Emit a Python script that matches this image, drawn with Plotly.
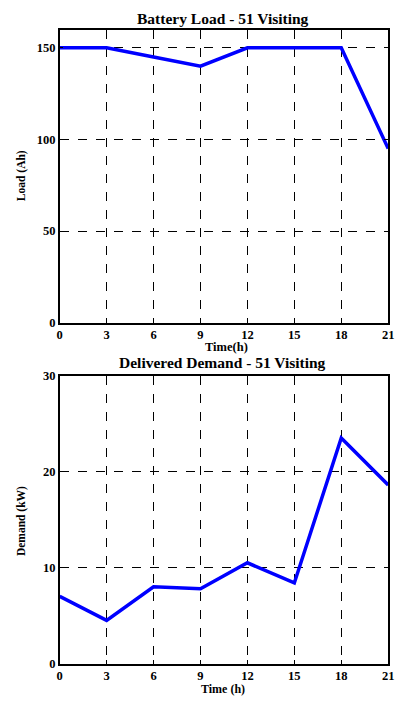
import plotly.graph_objects as go

hours = [0, 3, 6, 9, 12, 15, 18, 21]
load_ah = [150, 150, 145, 140, 150, 150, 150, 95]
demand_kw = [7.0, 4.5, 8.0, 7.8, 10.5, 8.4, 23.5, 18.6]
x_ticks = [0, 3, 6, 9, 12, 15, 18, 21]
load_ticks = [0, 50, 100, 150]
demand_ticks = [0, 10, 20, 30]

W, H = 402, 702
FONT = "Liberation Serif"

def py(px):
    return 1 - px / H

fig = go.Figure()
fig.add_trace(go.Scatter(x=hours, y=load_ah, mode="lines",
                         line=dict(color="#0000ff", width=3.5),
                         xaxis="x", yaxis="y", showlegend=False))
fig.add_trace(go.Scatter(x=hours, y=demand_kw, mode="lines",
                         line=dict(color="#0000ff", width=3.5),
                         xaxis="x2", yaxis="y2", showlegend=False))

xdom = [58 / W, 394 / W]
axis_common = dict(
    showline=True, linecolor="black", linewidth=1.5, mirror="ticks",
    ticks="inside", ticklen=4, tickcolor="black",
    showgrid=True, gridcolor="black", gridwidth=1, griddash="dash",
    zeroline=False,
    tickfont=dict(family=FONT, size=12.5, color="black", weight="bold"),
)

fig.update_layout(
    width=W, height=H,
    margin=dict(l=0, r=0, t=0, b=0),
    paper_bgcolor="white", plot_bgcolor="white",
    xaxis=dict(domain=xdom, anchor="y", range=[0, 21], tickvals=x_ticks, **axis_common),
    yaxis=dict(domain=[py(322), py(23)], anchor="x", range=[0, 160], tickvals=load_ticks, **axis_common),
    xaxis2=dict(domain=xdom, anchor="y2", range=[0, 21], tickvals=x_ticks, **axis_common),
    yaxis2=dict(domain=[py(670), py(376)], anchor="x2", range=[0, 30], tickvals=demand_ticks, **axis_common),
)

def ann(text, x, y, size, angle=0):
    fig.add_annotation(text=text, x=x / W, y=py(y), xref="paper", yref="paper",
                       showarrow=False, textangle=angle, xanchor="center", yanchor="middle",
                       borderpad=0,
                       font=dict(family=FONT, size=size, color="black", weight="bold"))

ann("Battery Load - 51 Visiting", 225, 12, 15.5)
ann("Time(h)", 229, 347, 12.5)
ann("Load (Ah)", 19, 172, 11.5, -90)
ann("Delivered Demand - 51 Visiting", 225, 363, 15.5)
ann("Time (h)", 225, 695.5, 12)
ann("Demand (kW)", 19, 525, 11.5, -90)

fig.write_html("out.html")
